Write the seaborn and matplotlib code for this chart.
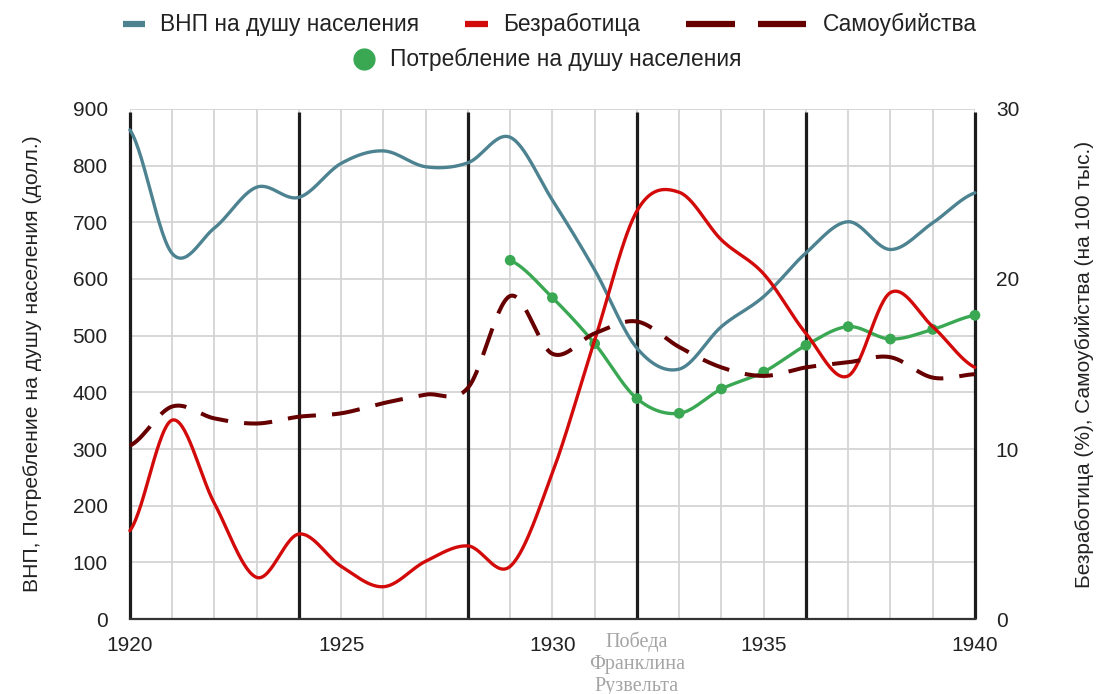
import numpy as np
import pandas as pd
import matplotlib
matplotlib.use("Agg")
import matplotlib.pyplot as plt
import seaborn as sns
from matplotlib.lines import Line2D

# =========================
# DATA
# =========================
years = list(range(1920, 1941))
gnp = [863, 645, 690, 762, 744, 804, 826, 798, 805, 850, 739, 616, 478, 441,
       516, 569, 646, 701, 652, 699, 752]
unemployment = [5.2, 11.7, 6.8, 2.45, 5.0, 3.1, 1.9, 3.4, 4.3, 3.1, 8.6, 16.4,
                24.0, 25.1, 22.3, 20.3, 16.8, 14.3, 19.2, 17.2, 14.8]
suicides = [10.2, 12.5, 11.8, 11.5, 11.9, 12.1, 12.7, 13.2, 13.6, 19.0, 15.6,
            16.8, 17.5, 16.0, 14.8, 14.3, 14.8, 15.1, 15.4, 14.2, 14.4]
cons_years = list(range(1929, 1941))
consumption = [633, 567, 486, 389, 363, 406, 436, 483, 516, 494, 511, 536]

term_years = [1920, 1924, 1928, 1932, 1936, 1940]

left_label = "ВНП, Потребление на душу населения (долл.)"
right_label = "Безработица (%), Самоубийства (на 100 тыс.)"
note = "Победа\nФранклина\nРузвельта"

C_GNP = "#4d8391"
C_UNEMP = "#d20a0a"
C_SUIC = "#660000"
C_CONS = "#3aa853"


def smooth(xs, ys, n=30):
    # Catmull-Rom curve through the yearly points (display only)
    xs = np.asarray(xs, float)
    ys = np.asarray(ys, float)
    px = np.concatenate([[2 * xs[0] - xs[1]], xs, [2 * xs[-1] - xs[-2]]])
    py = np.concatenate([[ys[0]], ys, [ys[-1]]])
    out_x, out_y = [], []
    for i in range(1, len(px) - 2):
        t = np.linspace(0, 1, n, endpoint=False)
        p0, p1, p2, p3 = py[i - 1], py[i], py[i + 1], py[i + 2]
        out_y.append(0.5 * (2 * p1 + (-p0 + p2) * t + (2 * p0 - 5 * p1 + 4 * p2 - p3) * t ** 2
                            + (-p0 + 3 * p1 - 3 * p2 + p3) * t ** 3))
        out_x.append(px[i] + (px[i + 1] - px[i]) * t)
    out_x.append([xs[-1]])
    out_y.append([ys[-1]])
    return pd.DataFrame({"x": np.concatenate(out_x), "y": np.concatenate(out_y)})


sns.set_style("white")
plt.rcParams["font.family"] = ["Liberation Sans", "DejaVu Sans"]

fig = plt.figure(figsize=(11.01, 6.94), dpi=100)
ax = fig.add_axes([0.118, 0.108, 0.7675, 0.735])
ax2 = ax.twinx()

# grid
ax.set_xlim(1920, 1940)
ax.set_ylim(0, 900)
ax2.set_ylim(0, 30)
ax.set_xticks([1920, 1925, 1930, 1935, 1940])
ax.set_xticks(years, minor=True)
ax.set_yticks(range(0, 901, 100))
ax2.set_yticks([0, 10, 20, 30])
ax.grid(True, which="both", color="#d4d4d4", lw=1.3)
ax.set_axisbelow(True)
for sp in ["top", "left", "right"]:
    ax.spines[sp].set_visible(False)
    ax2.spines[sp].set_visible(False)
ax2.spines["bottom"].set_visible(False)
ax.spines["bottom"].set_color("#333333")
ax.spines["bottom"].set_linewidth(1.6)
ax.tick_params(axis="y", length=0, labelsize=15, pad=16, colors="#222222")
ax.tick_params(axis="x", which="both", length=0, labelsize=15, pad=12, colors="#222222")
ax2.tick_params(length=0, labelsize=15, pad=15, colors="#222222")

# terms
ax.vlines(term_years, 0, 895, color="#1c1c1c", lw=2.3, clip_on=False, zorder=2)

# series
sns.lineplot(data=smooth(years, gnp), x="x", y="y", ax=ax, color=C_GNP, lw=2.4,
             sort=False, estimator=None, zorder=3)
sns.lineplot(data=smooth(cons_years, consumption), x="x", y="y", ax=ax, color=C_CONS,
             lw=2.4, sort=False, estimator=None, zorder=4)
sns.scatterplot(x=cons_years, y=consumption, ax=ax, color=C_CONS, s=60,
                edgecolor="none", zorder=5, clip_on=False)
sns.lineplot(data=smooth(years, unemployment), x="x", y="y", ax=ax2, color=C_UNEMP,
             lw=2.4, sort=False, estimator=None)
sns.lineplot(data=smooth(years, suicides), x="x", y="y", ax=ax2, color=C_SUIC,
             lw=2.9, sort=False, estimator=None)
ax2.lines[-1].set_dashes((7, 4))
for a in (ax, ax2):
    for ln in a.lines:
        ln.set_clip_on(False)
    a.set_xlabel("")
ax.set_ylabel(left_label, fontsize=15.2, labelpad=22, color="#222222")
ax2.set_ylabel(right_label, fontsize=15, labelpad=40, color="#222222")

ax.text(1932, -22, note, ha="center", va="top", fontsize=14.5, color="#a4a4a4",
        family="Liberation Serif", linespacing=1.2)

# legend
W, H = 1101, 694
def fx(px):
    return px / W
def fy(py):
    return 1 - py / H

y1, y2 = fy(24), fy(59)
fs = 16.4
fig.add_artist(Line2D([fx(123), fx(145)], [y1, y1], color=C_GNP, lw=4.5, solid_capstyle="butt"))
fig.text(fx(160), y1, "ВНП на душу населения", fontsize=fs, va="center", color="#222222")
fig.add_artist(Line2D([fx(465), fx(488)], [y1, y1], color=C_UNEMP, lw=4.5, solid_capstyle="butt"))
fig.text(fx(503), y1, "Безработица", fontsize=fs, va="center", color="#222222")
fig.add_artist(Line2D([fx(686), fx(735)], [y1, y1], color=C_SUIC, lw=4.5, solid_capstyle="butt"))
fig.add_artist(Line2D([fx(758), fx(806)], [y1, y1], color=C_SUIC, lw=4.5, solid_capstyle="butt"))
fig.text(fx(823), y1, "Самоубийства", fontsize=fs, va="center", color="#222222")
fig.add_artist(Line2D([fx(364)], [y2], marker="o", ms=15, color=C_CONS, lw=0))
fig.text(fx(390), y2, "Потребление на душу населения", fontsize=fs, va="center", color="#222222")

fig.savefig("out.png", dpi=100, facecolor="white")
